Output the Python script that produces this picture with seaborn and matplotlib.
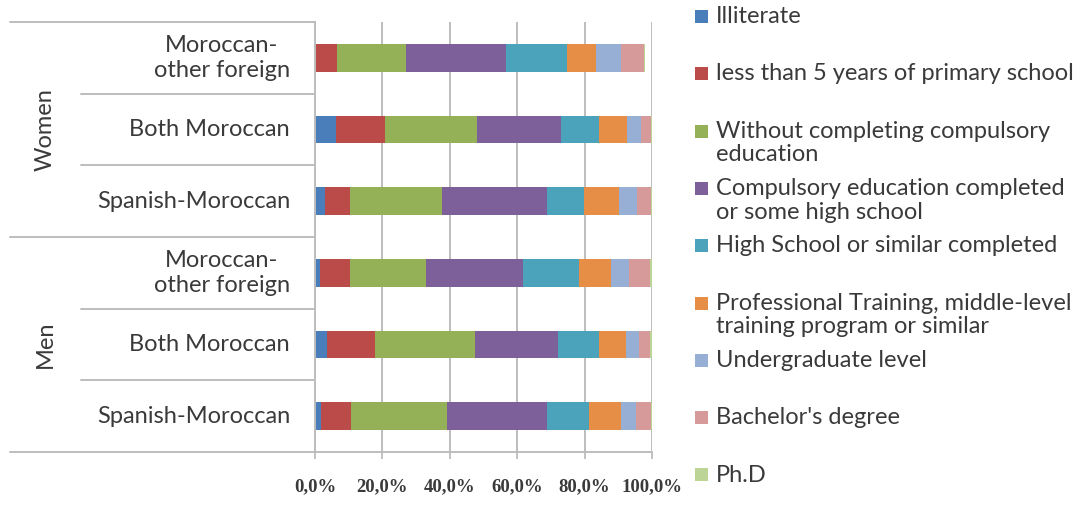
import numpy as np
import pandas as pd
import matplotlib
matplotlib.use("Agg")
import matplotlib.pyplot as plt
from matplotlib.patches import Rectangle
from matplotlib.lines import Line2D
from matplotlib.transforms import blended_transform_factory
import seaborn as sns

# ---- data (percent of each group by education level) ----
groups = ["Women", "Women", "Women", "Men", "Men", "Men"]
origins = ["Moroccan-\nother foreign", "Both Moroccan", "Spanish-Moroccan",
           "Moroccan-\nother foreign", "Both Moroccan", "Spanish-Moroccan"]
levels = ["Illiterate",
          "less than 5 years of primary school",
          "Without completing compulsory\neducation",
          "Compulsory education completed\nor some high school",
          "High School or similar completed",
          "Professional Training, middle-level\ntraining program or similar",
          "Undergraduate level",
          "Bachelor's degree",
          "Ph.D"]
illiterate = [0.0, 6.3, 3.1, 1.6, 3.5, 1.9]
primary_lt5 = [6.6, 14.4, 7.4, 8.9, 14.3, 8.9]
no_compulsory = [20.3, 27.5, 27.1, 22.3, 29.7, 28.3]
compulsory = [29.8, 24.9, 31.2, 28.9, 24.6, 29.7]
high_school = [18.0, 11.1, 10.9, 16.6, 12.1, 12.5]
professional = [8.7, 8.5, 10.4, 9.6, 8.0, 9.6]
undergraduate = [7.4, 3.9, 5.5, 5.4, 3.8, 4.4]
bachelor = [6.7, 3.2, 4.2, 6.1, 3.5, 4.4]
phd = [0.4, 0.3, 0.3, 0.6, 0.6, 0.3]
x_ticks = [0, 20, 40, 60, 80, 100]

series = [illiterate, primary_lt5, no_compulsory, compulsory, high_school,
          professional, undergraduate, bachelor, phd]
colors = ["#4A7EBB", "#BA4B48", "#95B158", "#7D6099", "#4AA3BA",
          "#E68E45", "#97AED5", "#D79A9A", "#BCD495"]

rows = [f"{g}|{o}" for g, o in zip(groups, origins)]
df = pd.DataFrame(np.array(series).T, columns=levels)
df["row"] = rows
cum = df[levels].cumsum(axis=1)
cum["row"] = rows

sns.set_theme(style="white")
plt.rcParams["font.family"] = ["Lato", "DejaVu Sans"]
text_color = "#3A3A3A"
grid_color = "#BDBDBD"
fs = 17

W, H = 1080, 517
fig = plt.figure(figsize=(W / 100, H / 100), dpi=100)
ax = fig.add_axes([315 / W, (H - 452) / H, (652 - 315) / W, (452 - 22) / H])

# stacked bars: draw running totals from the outermost segment inward
for lvl, col in reversed(list(zip(levels, colors))):
    sns.barplot(data=cum, x=lvl, y="row", order=rows, color=col,
                orient="h", width=0.39, saturation=1, linewidth=0, ax=ax)

ax.set_xlim(0, 100)
ax.set_ylim(5.5, -0.5)
ax.set_xticks(x_ticks)
ax.set_xticklabels([f"{v:.1f}%".replace(".", ",") for v in x_ticks],
                   fontfamily="Liberation Serif", fontweight="bold",
                   fontsize=13.5, color=text_color)
ax.tick_params(axis="x", length=5, width=1.3, color=grid_color, pad=14,
               bottom=True, direction="out")
ax.set_yticks([])
ax.set_xlabel("")
ax.set_ylabel("")
ax.grid(axis="x", color=grid_color, linewidth=1.4)
ax.set_axisbelow(True)
for side in ["top", "right"]:
    ax.spines[side].set_visible(False)
for side in ["left", "bottom"]:
    ax.spines[side].set_color(grid_color)
    ax.spines[side].set_linewidth(1.4)

# multi-level category axis on the left
bt = blended_transform_factory(fig.transFigure, ax.transAxes)
n = len(rows)
for k in range(n + 1):
    yb = 1 - k / n
    x0 = 10 / W if k % 3 == 0 else 81 / W
    fig.add_artist(Line2D([x0, 315 / W], [yb, yb], transform=bt,
                          color=grid_color, linewidth=1.4))
for k, o in enumerate(origins):
    yc = 1 - (k + 0.5) / n
    fig.text(290 / W, yc, o, transform=bt, ha="right", va="center",
             fontsize=fs, color=text_color, linespacing=1.23,
             multialignment="center")
for gi, g in enumerate(["Women", "Men"]):
    yc = 1 - (gi * 3 + 1.5) / n
    fig.text(45 / W, yc, g, transform=bt, ha="center", va="center",
             rotation=90, fontsize=fs, color=text_color)

# legend entries
for i, (lvl, col) in enumerate(zip(levels, colors)):
    yc = 16.5 + 57.3 * i
    fig.add_artist(Rectangle((695 / W, (H - yc - 6.5) / H), 13 / W, 13 / H,
                             transform=fig.transFigure, facecolor=col,
                             edgecolor="none"))
    fig.text(716 / W, (H - yc + 10.3) / H, lvl, ha="left", va="top",
             fontsize=fs, color=text_color, linespacing=1.15)

fig.savefig("out.png", dpi=100)
